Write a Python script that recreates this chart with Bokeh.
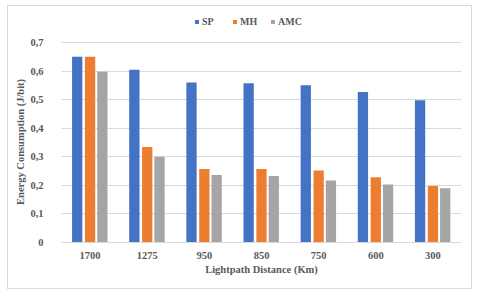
from bokeh.plotting import figure
from bokeh.models import (ColumnDataSource, FactorRange, FixedTicker, CustomJSTickFormatter,
                          Legend, LegendItem)
from bokeh.transform import dodge
from bokeh.embed import file_html
from bokeh.resources import INLINE

# Energy consumption per lightpath distance for three schemes
distances = ["1700", "1275", "950", "850", "750", "600", "300"]
sp = [0.65, 0.605, 0.56, 0.557, 0.55, 0.527, 0.498]
mh = [0.65, 0.334, 0.257, 0.257, 0.252, 0.228, 0.198]
amc = [0.598, 0.30, 0.236, 0.233, 0.217, 0.203, 0.19]
series_names = ["SP", "MH", "AMC"]
y_ticks = [0, 0.1, 0.2, 0.3, 0.4, 0.5, 0.6, 0.7]

colors = ["#4472C4", "#ED7D31", "#A5A5A5"]
FONT = "Liberation Serif"
TXT = "#595959"

src = ColumnDataSource(dict(dist=distances, SP=sp, MH=mh, AMC=amc))

# The value range runs a little past 0,7 so the legend can sit in the headroom
p = figure(x_range=FactorRange(*distances), y_range=(0, 0.805),
           width=465, height=284, output_backend="svg", toolbar_location=None,
           min_border_left=53, min_border_right=12, min_border_top=6, min_border_bottom=48,
           background_fill_color="white", border_fill_color="white")
p.margin = (5, 0, 0, 7)
p.styles = {"border": "1px solid #d9d9d9"}
p.outline_line_color = None

offsets = [-0.225, 0.0, 0.215]
renderers = []
for name, off, col in zip(series_names, offsets, colors):
    r = p.vbar(x=dodge("dist", off, range=p.x_range), top=name, width=0.18,
               source=src, fill_color=col, line_color=None)
    renderers.append(r)

# Axes
p.yaxis.ticker = FixedTicker(ticks=y_ticks)
p.yaxis.formatter = CustomJSTickFormatter(
    code="return tick === 0 ? '0' : tick.toFixed(1).replace('.', ',');")
p.yaxis.axis_line_color = None
p.yaxis.major_tick_line_color = None
p.yaxis.minor_tick_line_color = None
p.yaxis.major_label_standoff = 12
# trailing no-break spaces keep the title centred on the 0..0,7 span
p.yaxis.axis_label = "Energy Consumption (J/bit)" + "\u00a0" * 11
p.yaxis.axis_label_standoff = 1

p.xaxis.axis_line_color = "#D9D9D9"
p.xaxis.major_tick_line_color = None
p.xaxis.major_label_standoff = 3
p.xaxis.axis_label = "Lightpath Distance (Km)"
p.xaxis.axis_label_standoff = 2

for ax in (p.xaxis[0], p.yaxis[0]):
    ax.major_label_text_font = FONT
    ax.major_label_text_font_size = "10.5px"
    ax.major_label_text_font_style = "bold"
    ax.major_label_text_color = TXT
    ax.axis_label_text_font = FONT
    ax.axis_label_text_font_size = "10.5px"
    ax.axis_label_text_font_style = "bold"
    ax.axis_label_text_color = TXT

p.xgrid.grid_line_color = None
p.ygrid.grid_line_color = "#D9D9D9"

legend = Legend(items=[LegendItem(label=n, renderers=[r]) for n, r in zip(series_names, renderers)],
                orientation="horizontal", location=(133, 215),
                label_text_font=FONT, label_text_font_size="10px", label_text_font_style="bold",
                label_text_color=TXT, glyph_width=5, glyph_height=5, spacing=10,
                label_standoff=3, padding=0, margin=0, border_line_color=None,
                background_fill_alpha=0)
p.add_layout(legend, "center")

open("out.html", "w").write(file_html(p, INLINE))
